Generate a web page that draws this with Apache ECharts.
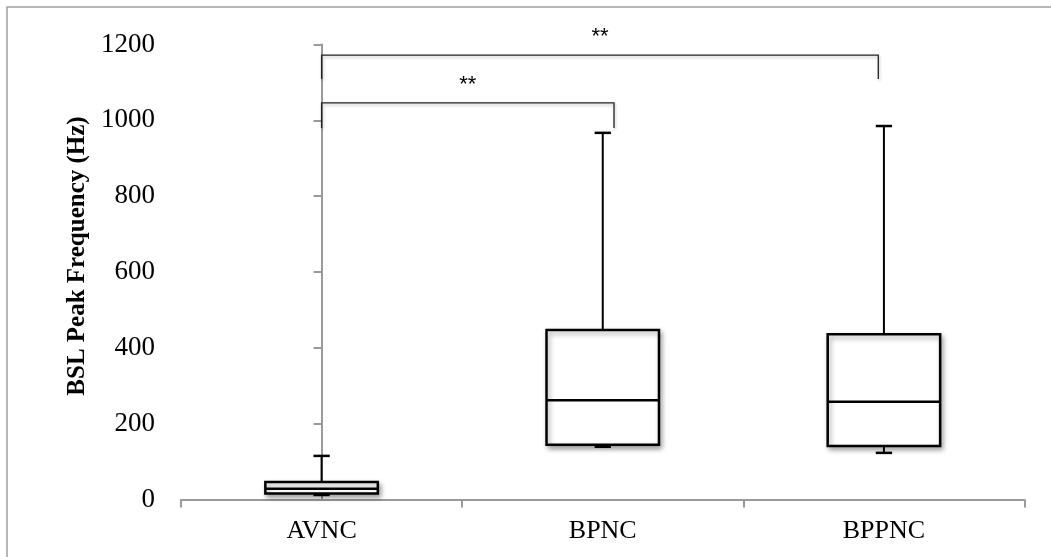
<!DOCTYPE html>
<html><head><meta charset="utf-8">
<script src="https://cdn.jsdelivr.net/npm/echarts@6/dist/echarts.min.js"></script>
<style>html,body{margin:0;padding:0;background:#fff}#c{width:1051px;height:557px}</style>
</head><body><div id="c"></div>
<script>
// ---- data ----
const categories   = ['AVNC', 'BPNC', 'BPPNC'];
const whiskerLow   = [12, 139, 123];
const quartile1    = [16, 144.5, 141];
const medians      = [28.5, 262, 258];
const quartile3    = [46, 447, 436];
const whiskerHigh  = [115, 967, 985];
const yMin = 0, yMax = 1200, yInterval = 200;
// significance brackets (category units / value units)
const bracketFrom      = [0, 0];
const bracketTo        = [1.04, 1.98];
const bracketTop       = [1046, 1172];
const bracketLegBottom = [980, 1109];
const bracketLabels    = ['**', '**'];

const SERIF = '"Liberation Serif", "DejaVu Serif", serif';
const AXIS_GRAY = '#9a9a9a';

const boxData = categories.map((c, i) => [i, whiskerLow[i], quartile1[i], medians[i], quartile3[i], whiskerHigh[i]]);
const bracketData = bracketFrom.map((f, i) => [f, bracketTo[i], bracketTop[i], bracketLegBottom[i], i]);

function renderBox(params, api) {
  const i = api.value(0);
  const band = api.size([1, 0])[0];
  const half = band * 0.2;
  const cap = band * 0.029;
  const pL = api.coord([i, api.value(1)]);
  const p1 = api.coord([i, api.value(2)]);
  const pM = api.coord([i, api.value(3)]);
  const p3 = api.coord([i, api.value(4)]);
  const pH = api.coord([i, api.value(5)]);
  const x = pL[0];
  const ls = { stroke: '#000', lineWidth: 2 };
  const sh = { shadowBlur: 5, shadowOffsetX: 2, shadowOffsetY: 3, shadowColor: 'rgba(0,0,0,0.35)' };
  return {
    type: 'group',
    children: [
      { type: 'line', shape: { x1: x, y1: p3[1], x2: x, y2: pH[1] }, style: Object.assign({}, ls) },
      { type: 'line', shape: { x1: x - cap, y1: pH[1], x2: x + cap, y2: pH[1] }, style: { stroke: '#000', lineWidth: 2.5 } },
      { type: 'line', shape: { x1: x, y1: p1[1], x2: x, y2: pL[1] }, style: Object.assign({}, ls) },
      { type: 'line', shape: { x1: x - cap, y1: pL[1], x2: x + cap, y2: pL[1] }, style: { stroke: '#000', lineWidth: 2.5 } },
      { type: 'rect', shape: { x: x - half, y: p3[1], width: half * 2, height: p1[1] - p3[1] },
        style: Object.assign({ fill: '#fff', stroke: '#000', lineWidth: 2.5 }, sh) },
      { type: 'line', shape: { x1: x - half, y1: pM[1], x2: x + half, y2: pM[1] }, style: { stroke: '#000', lineWidth: 2.5 } }
    ]
  };
}

function renderBracket(params, api) {
  const a = api.coord([api.value(0), api.value(2)]);
  const b = api.coord([api.value(1), api.value(2)]);
  const leg = api.coord([api.value(0), api.value(3)]);
  const idx = api.value(4);
  const sh = { shadowBlur: 3, shadowOffsetX: 1, shadowOffsetY: 2, shadowColor: 'rgba(0,0,0,0.25)' };
  return {
    type: 'group',
    children: [
      { type: 'polyline', shape: { points: [[a[0], leg[1]], [a[0], a[1]], [b[0], a[1]], [b[0], leg[1]]] },
        style: Object.assign({ stroke: '#222', lineWidth: 1.3, fill: null }, sh) },
      { type: 'text', x: (a[0] + b[0]) / 2, y: a[1] - 18,
        style: { text: bracketLabels[idx], fill: '#000', font: '22px "Liberation Sans", Arial, sans-serif',
                 align: 'center', verticalAlign: 'middle' } }
    ]
  };
}

const chart = echarts.init(document.getElementById('c'), null, { renderer: 'canvas' });
chart.setOption({
  animation: false,
  backgroundColor: '#fff',
  graphic: [{
    type: 'rect', shape: { x: 7, y: 7, width: 1200, height: 700 },
    style: { fill: null, stroke: '#a0a0a0', lineWidth: 1.5 }, silent: true, z: -10
  }],
  grid: { left: 181, right: 26.5, top: 44.5, bottom: 57.5 },
  xAxis: [{
    type: 'category', data: categories, boundaryGap: true,
    axisLine: { show: true, lineStyle: { color: AXIS_GRAY, width: 2 } },
    axisTick: { show: true, length: 8, alignWithLabel: false, lineStyle: { color: AXIS_GRAY, width: 2 } },
    axisLabel: { color: '#000', fontFamily: SERIF, fontSize: 26, margin: 19 },
    splitLine: { show: false }
  }, {
    type: 'value', min: -0.5, max: 2.5, show: false
  }],
  yAxis: {
    type: 'value', min: yMin, max: yMax, interval: yInterval,
    name: 'BSL Peak Frequency (Hz)', nameLocation: 'middle', nameRotate: 90, nameGap: 89,
    nameTextStyle: { color: '#000', fontFamily: SERIF, fontWeight: 'bold', fontSize: 25, padding: [0, 0, 0, 32] },
    axisLine: { show: true, lineStyle: { color: AXIS_GRAY, width: 2 } },
    axisTick: { show: true, length: 8, lineStyle: { color: AXIS_GRAY, width: 2 } },
    axisLabel: { color: '#000', fontFamily: SERIF, fontSize: 27, margin: 26, formatter: v => String(v) },
    splitLine: { show: false }
  },
  series: [{
    type: 'custom', name: 'box', xAxisIndex: 0, yAxisIndex: 0,
    renderItem: renderBox, data: boxData, clip: false,
    encode: { x: 0, y: [1, 2, 3, 4, 5] }
  }, {
    type: 'custom', name: 'brackets', xAxisIndex: 1, yAxisIndex: 0,
    renderItem: renderBracket, data: bracketData, clip: false,
    encode: { x: [0, 1], y: [2, 3] }
  }]
});
</script>
</body></html>
